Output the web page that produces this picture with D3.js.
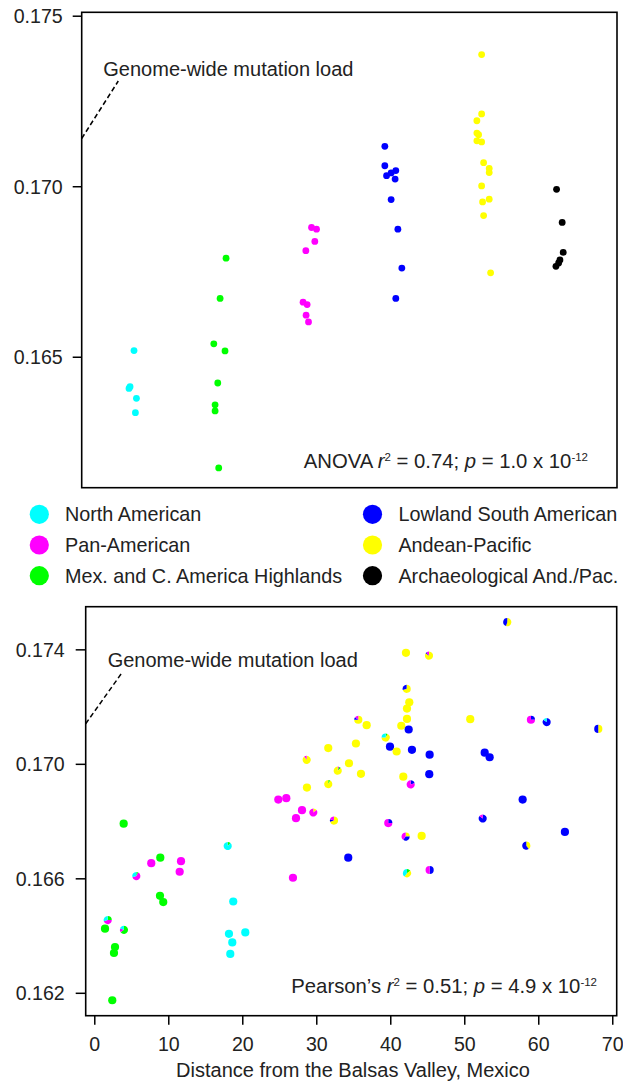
<html>
<head>
<style>
  body { margin: 0; background: #fff; }
  svg text { font-family: "Liberation Sans", Arial, sans-serif; fill: #222; }
</style>
</head>
<body>
<svg width="623" height="1086"></svg>
<script src="https://d3js.org/d3.v7.min.js"></script>
<script>
// groups, colours
var groups = ["North American", "Pan-American", "Mex. and C. America Highlands",
              "Lowland South American", "Andean-Pacific", "Archaeological And./Pac."];
var groupColors = ["#00ffff", "#ff00ff", "#00ff00", "#0000ff", "#ffff00", "#000000"];
var mixColor = { c: "#00ffff", m: "#ff00ff", g: "#00ff00", b: "#0000ff", y: "#ffff00" };

// top panel: [jittered group position, mutation load]
var topNorthAm = [[1.006,0.16518],[0.948,0.16407],[0.960,0.16412],[1.034,0.16378],[1.022,0.16336]];
var topMexHigh = [[2.072,0.16789],[2.003,0.16671],[1.930,0.16538],[2.060,0.16517],[1.976,0.16423],
                  [1.945,0.16359],[1.945,0.16341],[1.987,0.16174]];
var topPanAm = [[3.062,0.16879],[3.120,0.16874],[3.100,0.16838],[2.996,0.16811],[2.964,0.16660],
                [3.011,0.16653],[2.999,0.16622],[3.027,0.16602]];
var topLowland = [[3.911,0.17117],[3.911,0.17060],[4.038,0.17046],[3.984,0.17039],[3.931,0.17031],
                  [4.030,0.17021],[3.984,0.16961],[4.062,0.16874],[4.108,0.16760],[4.038,0.16671]];
var topAndean = [[5.032,0.17386],[5.032,0.17212],[4.977,0.17192],[4.977,0.17156],[4.997,0.17151],
                 [4.977,0.17133],[5.032,0.17130],[5.055,0.17069],[5.120,0.17052],[5.120,0.17040],
                 [5.032,0.17001],[5.120,0.16962],[5.043,0.16954],[5.055,0.16914],[5.136,0.16746]];
var topArch = [[5.900,0.16991],[5.965,0.16894],[5.977,0.16806],[5.939,0.16784],[5.924,0.16775],[5.893,0.16765]];

// bottom panel: distance (x100 km), mutation load, ancestry mix
var bottomDist = [3.97,18.03,8.92,7.70,11.72,11.54,5.68,26.85,8.88,9.32,18.78,1.81,1.45,4.01,18.20,20.41,18.65,2.80,2.66,18.38,2.43,
  32.9,36.04,41.76,45.27,28.74,31.62,42.76,24.87,25.95,28.07,29.6,27.26,32.39,39.73,42.08,44.24,34.32,42.26,45.32,52.49,63.6,58.38,
  42.12,45.23,42.21,42.57,42.26,42.26,50.81,35.68,36.81,41.49,42.49,39.38,39.96,42.93,45.32,40.86,35.36,31.62,28.70,34.42,
  55.81,59.01,61.13,68.11,52.76,53.43,57.89];
var bottomLoad = [0.16791,0.16713,0.16672,0.16653,0.16660,0.16623,0.16608,0.16602,0.16539,0.16517,0.16519,0.16454,0.16424,0.16420,0.16406,0.16411,0.16376,0.16360,0.16339,0.16336,0.16174,
  0.16976,0.16965,0.16955,0.16964,0.16917,0.16929,0.16928,0.16875,0.16880,0.16838,0.16830,0.16810,0.16802,0.16793,0.16746,0.16748,0.16672,0.16618,0.16629,0.16809,0.16762,0.16714,
  0.17388,0.17378,0.17262,0.17215,0.17193,0.17157,0.17156,0.17154,0.17135,0.17133,0.17120,0.17092,0.17060,0.17049,0.17032,0.17043,0.17071,0.17055,0.17014,0.17002,
  0.17495,0.17154,0.17146,0.17122,0.17039,0.17023,0.16875];
var bottomMix = ["g","g.12 c.88","g","m","m","m","g.08 m.62 c.30","m","g","g","c","g.25 m.45 c.30","g","g.65 m.15 c.20","c","c","c","g","g","c","g",
  "m.06 g.08 y.86","y","y","b","y","g.08 y.92","b.2 m.8","m","m","m","y.15 m.85","m","y.7 b.1 m.2","b.25 m.75","y.25 b.35 m.4","y","b","g.15 y.45 c.4","b.5 m.5","b.85 m.15","b","y.4 b.6",
  "y","y.85 b.05 m.1","y.7 b.3","y","y","y","y","y.75 b.1 m.15","y","y","b","g.08 y.67 c.25","b","b","b","y","y","y","y.9 m.1","y",
  "y.55 b.45","b.25 m.75","b.85 c.15","y.5 b.5","b","b","b"];

var genomeLoad = 0.1714;
var topTicks = [0.165, 0.170, 0.175];
var bottomYTicks = [0.162, 0.166, 0.170, 0.174];
var bottomXTicks = [0, 10, 20, 30, 40, 50, 60, 70];

var svg = d3.select("svg");
var fs = 19.6;

// ---------- top panel ----------
var tx = d3.scaleLinear().domain([0.4, 6.6]).range([81.7, 617]);
var ty = d3.scaleLinear().domain([0.16116, 0.1751]).range([487.7, 12.3]);

svg.append("rect").attr("x", 81.7).attr("y", 12.3).attr("width", 617 - 81.7).attr("height", 487.7 - 12.3)
  .attr("fill", "none").attr("stroke", "#000").attr("stroke-width", 1.6);

var tAxis = svg.append("g").attr("transform", "translate(81.7,0)")
  .call(d3.axisLeft(ty).tickValues(topTicks).tickFormat(d3.format(".3f")).tickSize(9).tickPadding(10));
tAxis.select(".domain").remove();
tAxis.selectAll("line").attr("stroke-width", 1.5);
tAxis.selectAll("text").style("font-size", fs + "px").attr("dy", "0.36em");

var topSets = [[topNorthAm, 0], [topMexHigh, 2], [topPanAm, 1], [topLowland, 3], [topAndean, 4], [topArch, 5]];
topSets.forEach(function(s) {
  svg.append("g").selectAll("circle").data(s[0]).enter().append("circle")
    .attr("cx", function(d) { return tx(d[0]); })
    .attr("cy", function(d) { return ty(d[1]); })
    .attr("r", 3.4)
    .attr("fill", groupColors[s[1]]);
});

function genomeLabel(xs, ys, x0, tx0, tyb) {
  svg.append("line").attr("x1", x0).attr("y1", ys(genomeLoad)).attr("x2", tx0 + 15).attr("y2", tyb + 5)
    .attr("stroke", "#000").attr("stroke-width", 1.5).attr("stroke-dasharray", "5,3");
  svg.append("text").attr("x", tx0).attr("y", tyb).style("font-size", "20px").text("Genome-wide mutation load");
}
genomeLabel(tx, ty, 81.7, 103.3, 76);

function statText(x, y, lead, rv, pv) {
  var t = svg.append("text").attr("x", x).attr("y", y).attr("text-anchor", "end").style("font-size", "20.3px");
  t.append("tspan").text(lead + " ");
  t.append("tspan").style("font-style", "italic").text("r");
  t.append("tspan").attr("dy", -7).style("font-size", "11.5px").text("2");
  t.append("tspan").attr("dy", 7).text(" = " + rv + "; ");
  t.append("tspan").style("font-style", "italic").text("p");
  t.append("tspan").text(" = " + pv + " x 10");
  t.append("tspan").attr("dy", -7).style("font-size", "11.5px").text("-12");
}
statText(588, 468.3, "ANOVA", "0.74", "1.0");

// ---------- legend ----------
var legend = svg.append("g");
groups.forEach(function(g, i) {
  var col = Math.floor(i / 3), row = i % 3;
  var cx = col ? 372.5 : 39.3, cy = 514.3 + row * 30.7;
  legend.append("circle").attr("cx", cx).attr("cy", cy).attr("r", 9.6).attr("fill", groupColors[i]);
  legend.append("text").attr("x", col ? 398.4 : 65).attr("y", cy).attr("dy", "0.36em")
    .style("font-size", "19.8px").text(g);
});

// ---------- bottom panel ----------
var bx = d3.scaleLinear().domain([-1.16, 70.6]).range([85.7, 616.7]);
var by = d3.scaleLinear().domain([0.1612, 0.17549]).range([1015.7, 606.7]);

svg.append("rect").attr("x", 85.7).attr("y", 606.7).attr("width", 616.7 - 85.7).attr("height", 1015.7 - 606.7)
  .attr("fill", "none").attr("stroke", "#000").attr("stroke-width", 1.6);

var bAxisY = svg.append("g").attr("transform", "translate(85.7,0)")
  .call(d3.axisLeft(by).tickValues(bottomYTicks).tickFormat(d3.format(".3f")).tickSize(10).tickPadding(11));
bAxisY.select(".domain").remove();
bAxisY.selectAll("line").attr("stroke-width", 1.5);
bAxisY.selectAll("text").style("font-size", fs + "px").attr("dy", "0.36em");

var bAxisX = svg.append("g").attr("transform", "translate(0,1015.7)")
  .call(d3.axisBottom(bx).tickValues(bottomXTicks).tickSize(9).tickPadding(8));
bAxisX.select(".domain").remove();
bAxisX.selectAll("line").attr("stroke-width", 1.5);
bAxisX.selectAll("text").style("font-size", fs + "px").attr("dy", "0.95em");

svg.append("text").attr("x", 353).attr("y", 1077).attr("text-anchor", "middle")
  .style("font-size", "20px").text("Distance from the Balsas Valley, Mexico");

genomeLabel(bx, by, 85.7, 107.7, 666.7);
statText(597, 992.7, "Pearson\u2019s", "0.51", "4.9");

var pie = d3.pie().sort(null).value(function(d) { return d[1]; });
var arc = d3.arc().innerRadius(0).outerRadius(4.1);
var pts = svg.append("g");
bottomDist.forEach(function(dist, i) {
  var parts = bottomMix[i].split(" ").map(function(p) {
    return [p[0], p.length > 1 ? +p.slice(1) : 1];
  });
  var g = pts.append("g").attr("transform", "translate(" + bx(dist) + "," + by(bottomLoad[i]) + ")");
  if (parts.length === 1) {
    g.append("circle").attr("r", 4.1).attr("fill", mixColor[parts[0][0]]);
  } else {
    g.selectAll("path").data(pie(parts)).enter().append("path")
      .attr("d", arc).attr("fill", function(d) { return mixColor[d.data[0]]; });
  }
});
</script>
</body>
</html>
